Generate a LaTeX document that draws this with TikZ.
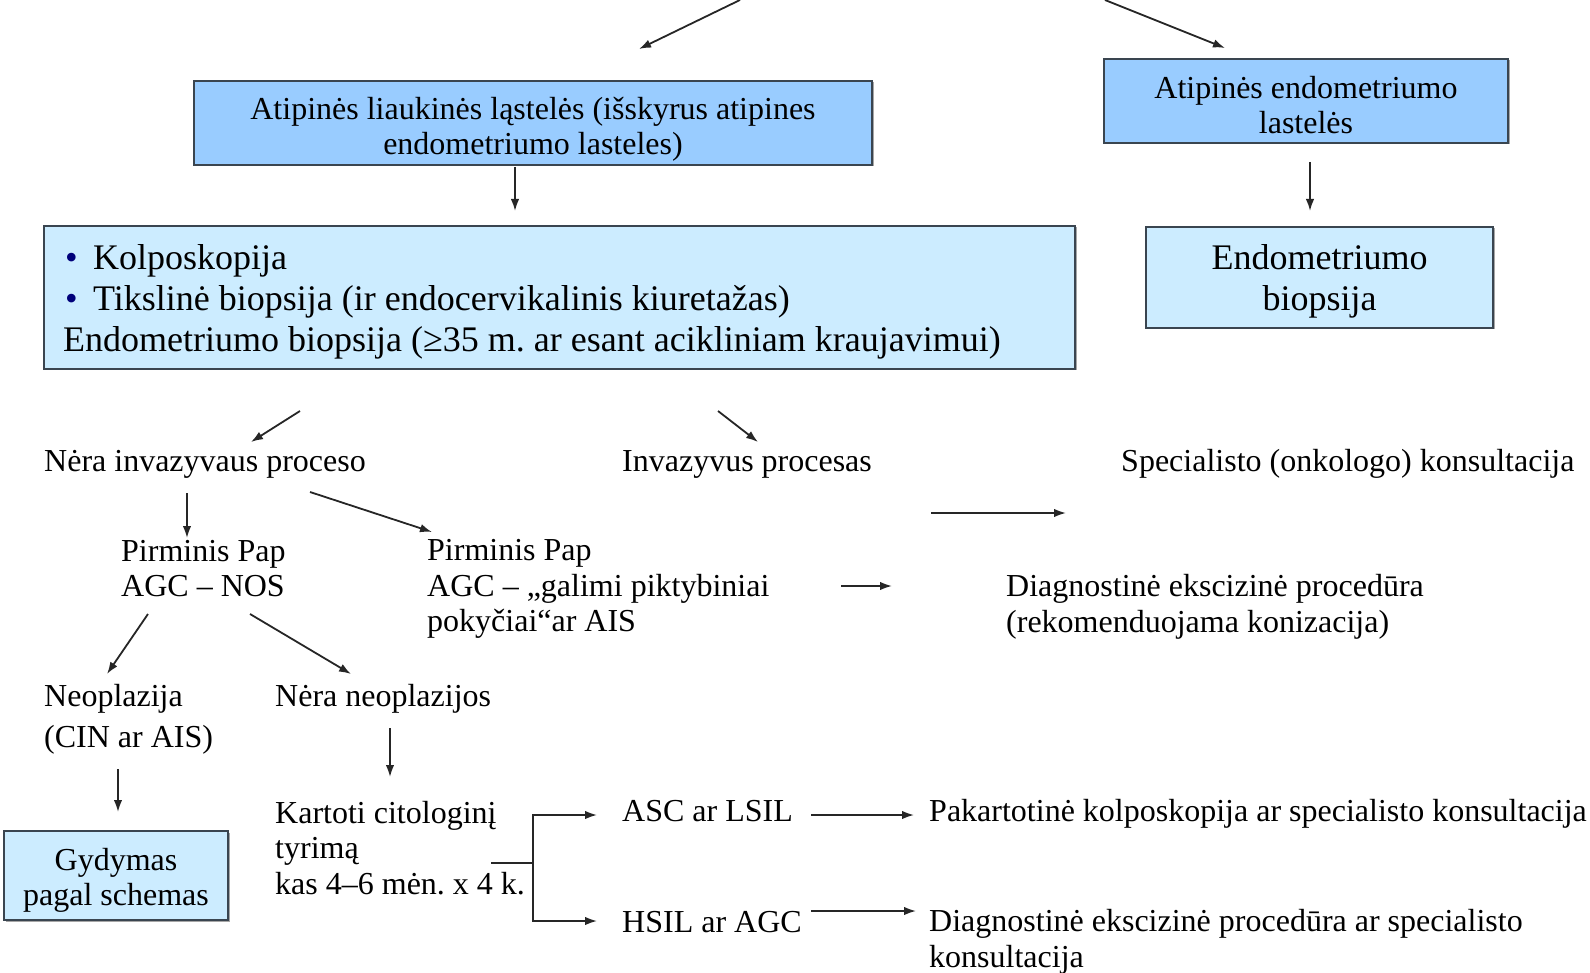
\documentclass[tikz,border=0pt]{standalone}
\usepackage{fontspec}
\setmainfont{Liberation Serif}
\usetikzlibrary{arrows.meta,shadows}
\definecolor{boxmid}{HTML}{99CCFF}
\definecolor{boxlight}{HTML}{CCECFF}
\definecolor{bulletblue}{HTML}{00007A}
\definecolor{edge}{HTML}{3A4550}
\newcommand{\normaltxt}{\frenchspacing\fontsize{32}{35.5}\selectfont}
\newcommand{\bigtxt}{\frenchspacing\fontsize{36}{41}\selectfont}
\newcommand{\blt}{\makebox[30pt][l]{\hspace{2pt}\color{bulletblue}\textbullet}}

\begin{document}
\begin{tikzpicture}[x=1pt,y=-1pt,
  arr/.style={-{Latex[length=12pt,width=8.5pt]}, line width=1.8pt, black!85},
  flowbox/.style={draw=edge, line width=1.8pt, inner sep=0pt,
    general shadow={shadow xshift=1.5pt, shadow yshift=-1.5pt, fill=gray!70}},
  boxtext/.style={inner sep=0pt, align=center, font=\normaltxt},
  plain/.style={anchor=west, inner sep=0pt, align=left, font=\normaltxt}]

\useasboundingbox (0,0) rectangle (1590,973);

% boxes and their captions
\node[flowbox, fill=boxmid, minimum width=678, minimum height=84] (liauk) at (533,123) {};
\node[boxtext] (liaukT) at (533,129.5)
  {Atipinės liaukinės ląstelės (išskyrus atipines\\endometriumo lasteles)};
\node[flowbox, fill=boxmid, minimum width=404, minimum height=84] (endocell) at (1306,101) {};
\node[boxtext] (endocellT) at (1306,105)
  {Atipinės endometriumo\\lastelės};
\node[flowbox, fill=boxlight, minimum width=347, minimum height=101] (endobio) at (1319.5,277.5) {};
\node[boxtext, font=\bigtxt] (endobioT) at (1319.5,281.5)
  {Endometriumo\\biopsija};
\node[flowbox, fill=boxlight, minimum width=1031, minimum height=143] (exam) at (559.5,297.5) {};
\node[plain, font=\bigtxt] (examT) at (63,302)
  {\blt Kolposkopija\\\blt Tikslinė biopsija (ir endocervikalinis kiuretažas)\\Endometriumo biopsija (≥35 m. ar esant acikliniam kraujavimui)};
\node[flowbox, fill=boxlight, minimum width=224, minimum height=89] (gyd) at (116,875.5) {};
\node[boxtext] (gydT) at (116,880.5)
  {Gydymas\\pagal schemas};

% plain texts
\node[plain] (nera) at (44,464) {Nėra invazyvaus proceso};
\node[plain] (inv) at (622,464) {Invazyvus procesas};
\node[plain] (spec) at (1121,464) {Specialisto (onkologo) konsultacija};
\node[plain] (papnos) at (121,568.5) {Pirminis Pap\\AGC – NOS};
\node[plain] (papais) at (427,589) {Pirminis Pap\\AGC – „galimi piktybiniai\\pokyčiai“ar AIS};
\node[plain] (diag1) at (1006,607) {Diagnostinė ekscizinė procedūra\\(rekomenduojama konizacija)};
\node[plain, font=\frenchspacing\fontsize{32}{40.6}\selectfont] (neo) at (44,719.5) {Neoplazija\\(CIN ar AIS)};
\node[plain] (neneo) at (275,699) {Nėra neoplazijos};
\node[plain] (kart) at (275,848) {Kartoti citologinį\\tyrimą\\kas 4–6 mėn. x 4 k.};
\node[plain] (asc) at (622,811) {ASC ar LSIL};
\node[plain] (hsil) at (622,922) {HSIL ar AGC};
\node[plain] (pak) at (929,814) {Pakartotinė kolposkopija ar specialisto konsultacija};
\node[plain] (diag2) at (929,942) {Diagnostinė ekscizinė procedūra ar specialisto\\konsultacija};

% arrow end points
\coordinate (t1a) at (740,0);    \coordinate (t1b) at (639,49);
\coordinate (t2a) at (1105,0);   \coordinate (t2b) at (1225,48);
\coordinate (l1a) at (515,167);  \coordinate (l1b) at (515,211);
\coordinate (e1a) at (1310,162); \coordinate (e1b) at (1310,211);
\coordinate (x1a) at (300,411);  \coordinate (x1b) at (251,442);
\coordinate (x2a) at (718,411);  \coordinate (x2b) at (758,442);
\coordinate (sa) at (931,513);   \coordinate (sb) at (1066,513);
\coordinate (n1a) at (187,493);  \coordinate (n1b) at (187,538);
\coordinate (n2a) at (310,492);  \coordinate (n2b) at (432,532);
\coordinate (da) at (841,586);   \coordinate (db) at (892,586);
\coordinate (p1a) at (148,614);  \coordinate (p1b) at (107,674);
\coordinate (p2a) at (250,614);  \coordinate (p2b) at (351,674);
\coordinate (g1a) at (118,769);  \coordinate (g1b) at (118,812);
\coordinate (k1a) at (390,728);  \coordinate (k1b) at (390,777);
\coordinate (bj) at (491,863);   \coordinate (bm) at (533,863);
\coordinate (bt) at (533,815);   \coordinate (bb) at (533,921);
\coordinate (ba) at (597,815);   \coordinate (bh) at (597,921);
\coordinate (aa) at (811,815);   \coordinate (ab) at (914,815);
\coordinate (ha) at (811,911);   \coordinate (hb) at (916,911);

% connectors
\draw[arr] (t1a) -- (t1b);
\draw[arr] (t2a) -- (t2b);
\draw[arr] (l1a) -- (l1b);
\draw[arr] (e1a) -- (e1b);
\draw[arr] (x1a) -- (x1b);
\draw[arr] (x2a) -- (x2b);
\draw[arr] (sa) -- (sb);
\draw[arr] (n1a) -- (n1b);
\draw[arr] (n2a) -- (n2b);
\draw[arr] (da) -- (db);
\draw[arr] (p1a) -- (p1b);
\draw[arr] (p2a) -- (p2b);
\draw[arr] (g1a) -- (g1b);
\draw[arr] (k1a) -- (k1b);
\draw[line width=1.8pt, black!85] (bj) -- (bm);
\draw[arr] (bm) -- (bt) -- (ba);
\draw[arr] (bm) -- (bb) -- (bh);
\draw[arr] (aa) -- (ab);
\draw[arr] (ha) -- (hb);
\end{tikzpicture}
\end{document}
